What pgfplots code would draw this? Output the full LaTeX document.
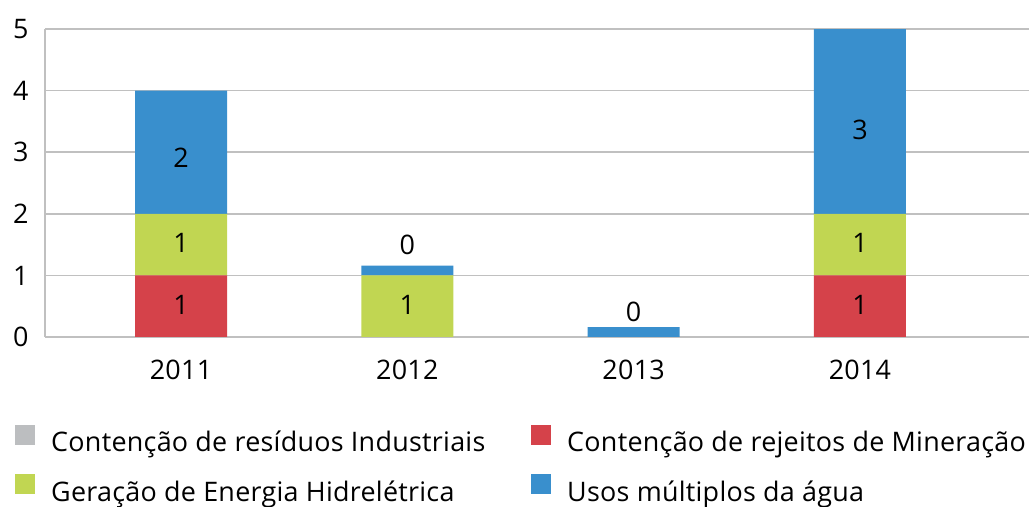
\documentclass[border=0pt]{standalone}
\usepackage{pgfplots}
\pgfplotsset{compat=1.18}
\usepackage{fontspec}
\setmainfont{Open Sans}[LetterSpace=1]
\definecolor{cgray}{HTML}{BCBEC0}
\definecolor{cred}{HTML}{D5424A}
\definecolor{cgreen}{HTML}{C1D652}
\definecolor{cblue}{HTML}{398FCD}
\definecolor{gridgray}{HTML}{C0C0C0}
\newcommand{\fnt}{\fontsize{27}{32}\selectfont}
\pgfplotsset{
  common/.style={
    at={(45bp,170bp)}, anchor=south west,
    scale only axis, width=984bp, height=308bp,
    xmin=-0.601, xmax=3.747, ymin=0, ymax=5,
  }
}
\begin{document}
\begin{tikzpicture}
\path[use as bounding box] (0,0) rectangle (1032bp,507bp);
\begin{axis}[common,
  ybar stacked, bar width=92bp,
  ytick={0,1,2,3,4,5},
  xtick={0,1,2,3}, xticklabels={2011,2012,2013,2014},
  ymajorgrids, grid style={color=gridgray, line width=1.5bp},
  axis x line*=bottom, axis y line*=left,
  axis line style={gridgray, line width=1.5bp},
  major tick length=0pt,
  tick label style={font=\fnt, /pgf/number format/assume math mode=true},
  xticklabel style={yshift=-19bp},
  yticklabel style={xshift=-13bp},
  legend columns=2,
  legend image code/.code={\fill[#1] (0bp,-3bp) rectangle (20bp,17bp);},
  legend style={draw=none, fill=none, at={(axis description cs:-0.0335,-0.280)}, anchor=north west,
    font=\fnt, nodes={inner sep=0pt}, column sep=16bp, row sep=21bp},
  legend cell align=left,
]
\addlegendimage{fill=cgray, draw=none}
\addlegendentry{\makebox[464bp][l]{Contenção de resíduos Industriais}}
\addplot[fill=cred, draw=none] coordinates {(0,1) (1,0) (2,0) (3,1)};
\addlegendentry{Contenção de rejeitos de Mineração}
\addplot[fill=cgreen, draw=none] coordinates {(0,1) (1,1) (2,0) (3,1)};
\addlegendentry{\makebox[464bp][l]{Geração de Energia Hidrelétrica}}
\addplot[fill=cblue, draw=none] coordinates {(0,2) (1,0.16) (2,0.16) (3,3)};
\addlegendentry{Usos múltiplos da água}
\end{axis}
\begin{axis}[common, hide axis]
\addplot[draw=none, mark=none, nodes near coords, point meta=explicit symbolic,
  nodes near coords align=center,
  every node near coord/.append style={anchor=center, font=\fnt, inner sep=0pt}]
  coordinates {
  (0,0.52) [1] (0,1.53) [1] (0,2.91) [2]
  (1,0.52) [1] (1,1.49) [0]
  (2,0.41) [0]
  (3,0.52) [1] (3,1.53) [1] (3,3.36) [3]
  };
\end{axis}
\end{tikzpicture}
\end{document}
